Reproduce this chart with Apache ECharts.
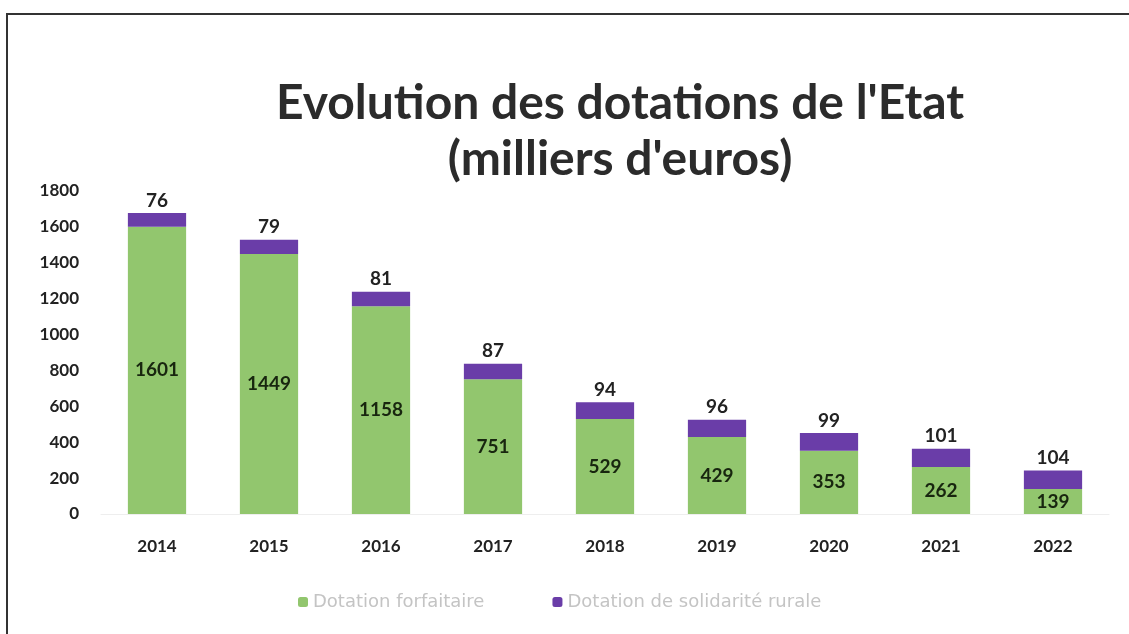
<!DOCTYPE html>
<html>
<head>
<meta charset="utf-8">
<script src="https://cdn.jsdelivr.net/npm/echarts@6/dist/echarts.min.js"></script>
<style>
  html, body { margin: 0; padding: 0; background: #fff; }
  #chart { width: 1129px; height: 634px; }
</style>
</head>
<body>
<div id="chart"></div>
<script>
// dotations de l'Etat, en milliers d'euros
const years = ['2014', '2015', '2016', '2017', '2018', '2019', '2020', '2021', '2022'];
const forfaitaire = [1601, 1449, 1158, 751, 529, 429, 353, 262, 139];
const solidarite = [76, 79, 81, 87, 94, 96, 99, 101, 104];
const yTicks = [0, 200, 400, 600, 800, 1000, 1200, 1400, 1600, 1800];

const chart = echarts.init(document.getElementById('chart'));

const font = 'Lato, "Open Sans", sans-serif';

const option = {
  backgroundColor: '#fff',
  title: {
    text: "Evolution des dotations de l'Etat\n(milliers d'euros)",
    left: 615,
    top: 71,
    textAlign: 'center',
    textStyle: {
      fontFamily: font,
      fontSize: 48,
      fontWeight: 'bold',
      color: '#2b2b2b',
      lineHeight: 56
    }
  },
  graphic: [
    {
      type: 'rect',
      shape: { x: 7, y: 14, width: 1200, height: 700 },
      style: { fill: 'none', stroke: '#333', lineWidth: 2 },
      silent: true
    }
  ],
  legend: {
    bottom: 18,
    left: 293,
    itemGap: 68,
    itemWidth: 10,
    itemHeight: 10,
    textStyle: { fontFamily: '"DejaVu Sans", sans-serif', fontSize: 18, color: '#c4c4c4' },
    data: ['Dotation forfaitaire', 'Dotation de solidarité rurale']
  },
  grid: { left: 101, right: 20, top: 191, bottom: 120 },
  xAxis: {
    type: 'category',
    data: years,
    axisLine: { lineStyle: { color: '#eee' } },
    axisTick: { show: false },
    axisLabel: {
      fontFamily: font,
      fontSize: 17,
      fontWeight: 'bold',
      color: '#222',
      margin: 24
    }
  },
  yAxis: {
    type: 'value',
    min: yTicks[0],
    max: yTicks[yTicks.length - 1],
    interval: 200,
    splitLine: { show: false },
    axisLine: { show: false },
    axisTick: { show: false },
    axisLabel: {
      fontFamily: font,
      fontSize: 17,
      fontWeight: 'bold',
      color: '#222',
      margin: 22,
      formatter: v => String(v)
    }
  },
  series: [
    {
      name: 'Dotation forfaitaire',
      type: 'bar',
      stack: 'total',
      barWidth: '52%',
      data: forfaitaire,
      itemStyle: { color: '#92C66E' },
      label: {
        show: true,
        position: 'inside',
        fontFamily: font,
        fontSize: 19,
        fontWeight: 'bold',
        color: '#18260f'
      }
    },
    {
      name: 'Dotation de solidarité rurale',
      type: 'bar',
      stack: 'total',
      data: solidarite,
      itemStyle: { color: '#6A3DA8' },
      label: {
        show: true,
        position: 'top',
        distance: 3,
        fontFamily: font,
        fontSize: 19,
        fontWeight: 'bold',
        color: '#222'
      }
    }
  ]
};

chart.setOption(option);
</script>
</body>
</html>
